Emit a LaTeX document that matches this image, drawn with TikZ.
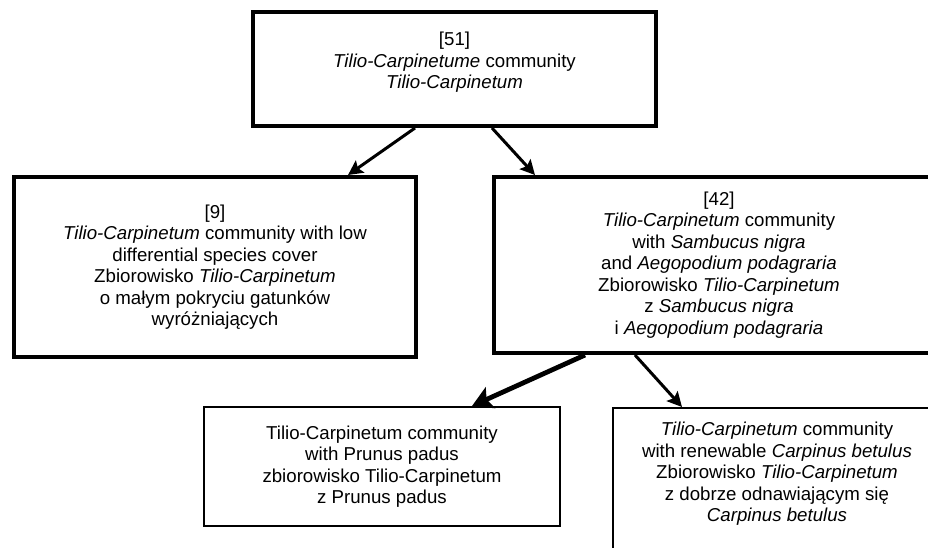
\documentclass[tikz,border=0pt]{standalone}
\usepackage{fontspec}
\setmainfont{Liberation Sans}
\usetikzlibrary{arrows.meta,calc}

\begin{document}
\begin{tikzpicture}[
  x=0.75pt, y=-0.75pt,
  font=\fontsize{14pt}{16.1pt}\selectfont,
  grp/.style={rectangle, draw=black, line width=3pt, align=center, inner sep=0pt},
  sub/.style={grp, line width=1.5pt},
  arr/.style={-{Stealth[length=11pt, width=11pt, inset=2pt]}, line width=2.25pt},
  bigarr/.style={-{Stealth[length=15pt, width=17pt, inset=3pt]}, line width=3.6pt}
]
\clip (0,0) rectangle (928,547);
\node[grp, minimum width=302.25pt, minimum height=85.5pt, text depth=13pt] (top) at (454.5,69)
  {[51]\\\textit{Tilio-Carpinetume} community\\\textit{Tilio-Carpinetum}};
\node[grp, minimum width=301.5pt, minimum height=135pt] (low) at (215,267)
  {[9]\\\textit{Tilio-Carpinetum} community with low\\differential species cover\\Zbiorowisko \textit{Tilio-Carpinetum}\\o małym pokryciu gatunków\\wyróżniających};
\node[grp, minimum width=337.5pt, minimum height=132pt] (samb) at (719,265)
  {[42]\\\textit{Tilio-Carpinetum} community\\with \textit{Sambucus nigra}\\and \textit{Aegopodium podagraria}\\Zbiorowisko \textit{Tilio-Carpinetum}\\z \textit{Sambucus nigra}\\i \textit{Aegopodium podagraria}};
\node[sub, minimum width=267pt, minimum height=89.25pt] (prunus) at (382,466.5)
  {Tilio-Carpinetum community\\with Prunus padus\\zbiorowisko Tilio-Carpinetum\\z Prunus padus};
\node[sub, minimum width=246pt, minimum height=117pt, text depth=21.3pt] (carp) at (777,486)
  {\textit{Tilio-Carpinetum} community\\with renewable \textit{Carpinus betulus}\\Zbiorowisko \textit{Tilio-Carpinetum}\\z dobrze odnawiającym się\\\textit{Carpinus betulus}};
% arrows
\draw[arr] ($(top.south)+(-39.5,0)$) -- ($(low.north)+(133,0)$);
\draw[arr] ($(top.south)+(37.5,0)$) -- ($(samb.north)+(-184,0)$);
\draw[bigarr] ($(samb.south)+(-134,0)$) -- ($(prunus.north)+(90,0)$);
\draw[arr] ($(samb.south)+(-84,0)$) -- ($(carp.north)+(-95,0)$);
\end{tikzpicture}
\end{document}
